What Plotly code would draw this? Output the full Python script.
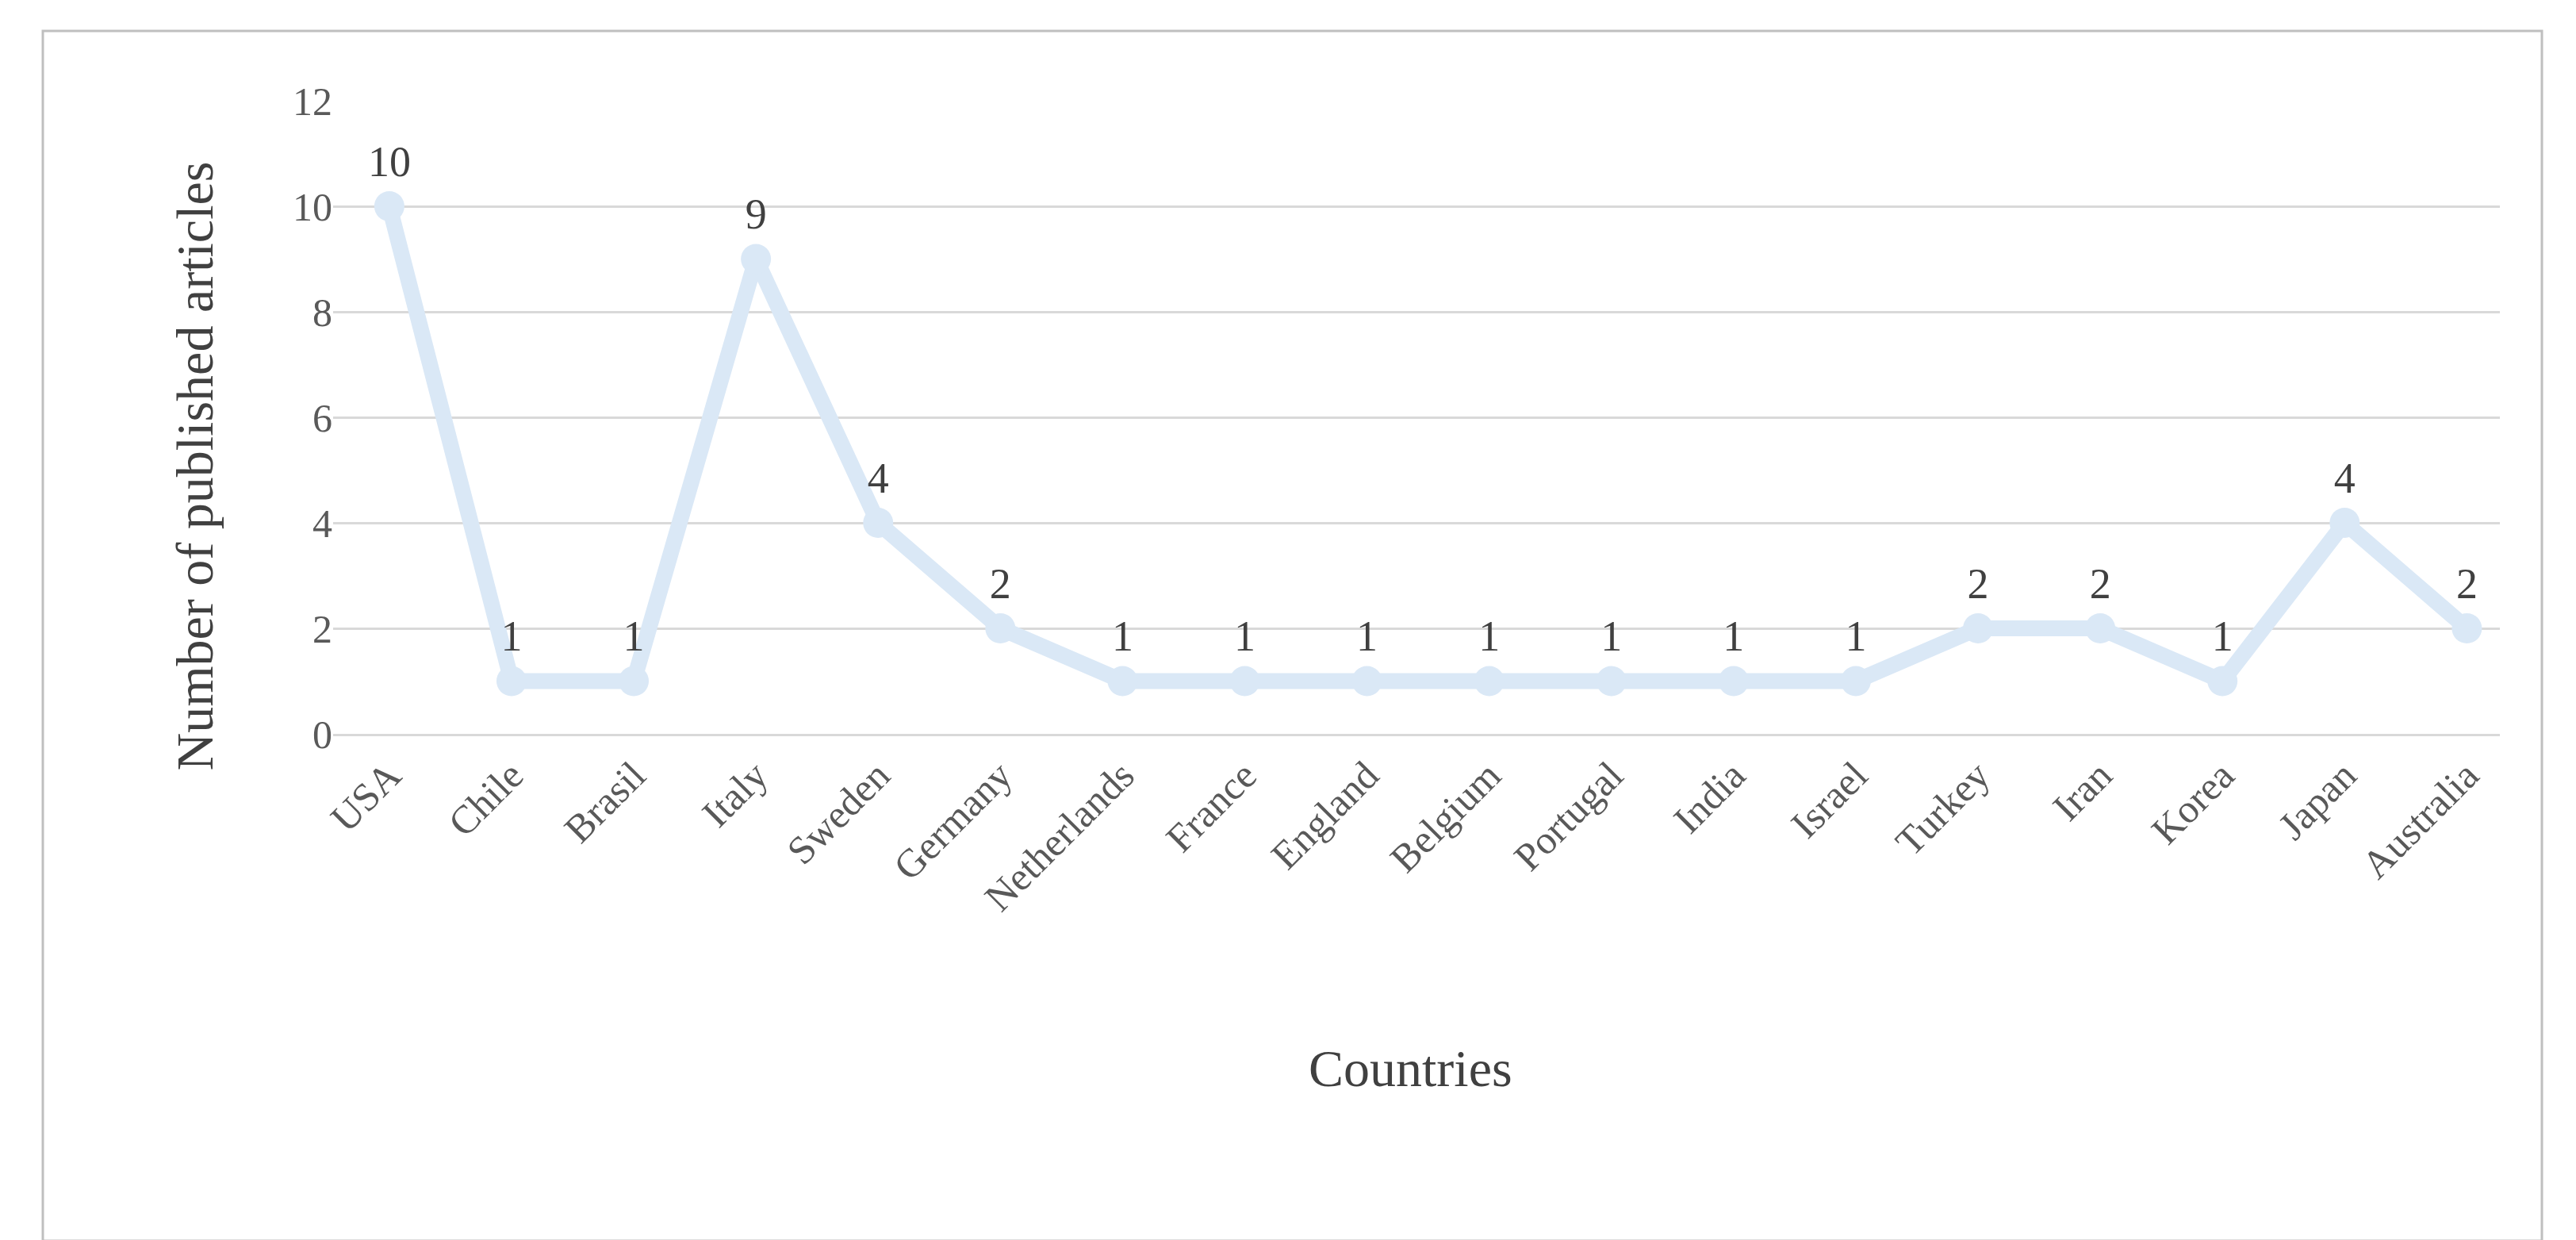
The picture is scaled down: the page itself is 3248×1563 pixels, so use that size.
import plotly.graph_objects as go

countries = ["USA","Chile","Brasil","Italy","Sweden","Germany","Netherlands","France","England",
             "Belgium","Portugal","India","Israel","Turkey","Iran","Korea","Japan","Australia"]
articles = [10,1,1,9,4,2,1,1,1,1,1,1,1,2,2,1,4,2]

W, H = 3248, 1563
L, R, T, B = 412, 104, 119, 646
pw, ph = W-L-R, H-T-B
def px(x): return (x-L)/pw
def py(y): return (H-B-y)/ph

font = "Liberation Serif"
fig = go.Figure(go.Scatter(
    x=countries, y=articles, mode="lines+markers+text",
    line=dict(color="#dae8f6", width=20),
    marker=dict(color="#dae8f6", size=38),
    text=[str(v) for v in articles], textposition="top center",
    textfont=dict(family=font, size=54, color="#404040"),
    cliponaxis=False,
))
fig.update_layout(
    width=W, height=H, margin=dict(l=L, r=R, t=T, b=B),
    paper_bgcolor="white", plot_bgcolor="white", showlegend=False,
    font=dict(family=font, color="#595959"),
    xaxis=dict(tickangle=-45, tickfont=dict(size=50, color="#595959"), showgrid=False,
               showline=True, linecolor="#d9d9d9", linewidth=3, ticks="",
               range=[-0.46, 17.27]),
    yaxis=dict(range=[0, 12], dtick=2, showgrid=True, gridcolor="#d9d9d9", gridwidth=3,
               zeroline=False, showline=False, tickfont=dict(size=50, color="#595959"),
               ticklen=30, tickcolor="white"),
    shapes=[dict(type="rect", xref="paper", yref="paper",
                 x0=px(46), x1=px(3197), y0=py(1556), y1=py(31),
                 line=dict(color="#bfbfbf", width=3))],
    annotations=[
        dict(text="Countries", xref="paper", yref="paper", x=px(1770), y=py(1377),
             showarrow=False, font=dict(size=66, color="#404040", family=font)),
        dict(text="Number of published articles", xref="paper", yref="paper",
             x=px(198), y=py(580), textangle=-90, showarrow=False,
             font=dict(size=66, color="#404040", family=font)),
    ],
)
fig.write_html("out.html")
